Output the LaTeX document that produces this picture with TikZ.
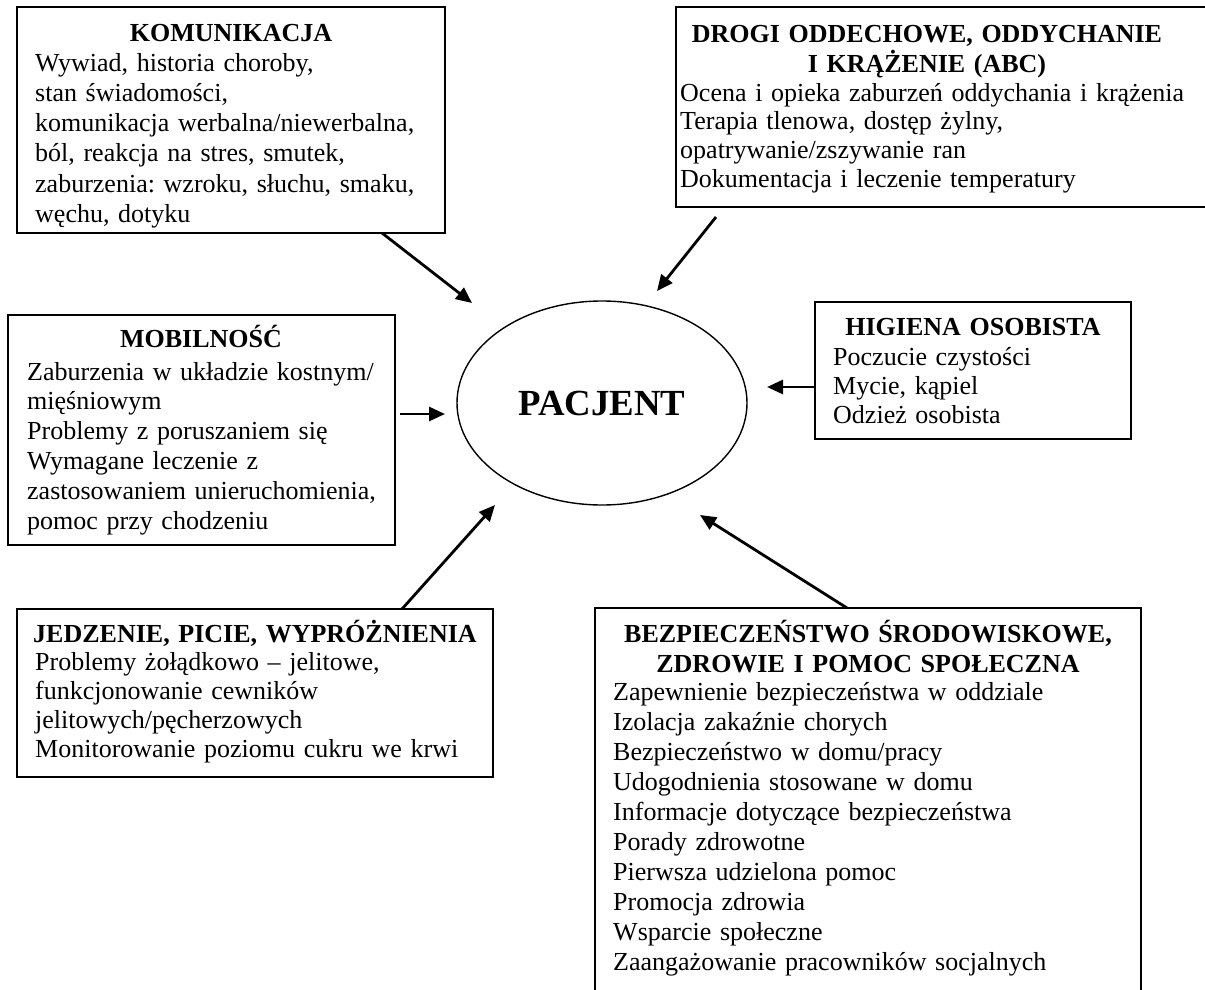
\documentclass[tikz,border=0pt]{standalone}
\usepackage{fontspec}
\setmainfont{Liberation Serif}
\frenchspacing
\usetikzlibrary{arrows.meta,shapes.geometric}
\begin{document}
\begin{tikzpicture}[x=1pt,y=-1pt,
  box/.style={draw=black, line width=1.8pt, rectangle, anchor=north west, inner sep=0pt, outer sep=0pt},
  ttl/.style={font=\fontsize{26}{30}\selectfont\bfseries, anchor=base, inner sep=0pt, text width=560pt, align=center},
  txt/.style={font=\fontsize{26}{#1}\selectfont, anchor=base west, inner sep=0pt, text width=560pt, align=left},
  txt/.default=30,
  arr/.style={line width=2.8pt, -{Triangle[length=16pt,width=14pt]}},
]
\useasboundingbox (0,0) rectangle (1205,990);
\clip (0,0) rectangle (1205,990);

% KOMUNIKACJA
\node[box, minimum width=428pt, minimum height=226pt] (kom) at (17,7) {};
\node[ttl] (komT) at (231,42) {KOMUNIKACJA};
\node[txt] (komB) at (35,72) {Wywiad, historia choroby,\\stan świadomości,\\komunikacja werbalna/niewerbalna,\\ból, reakcja na stres, smutek,\\zaburzenia: wzroku, słuchu, smaku,\\węchu, dotyku};

% DROGI ODDECHOWE
\node[box, minimum width=560pt, minimum height=200pt] (abc) at (676,7) {};
\node[ttl] (abcT) at (927,43) {DROGI ODDECHOWE, ODDYCHANIE\\I KRĄŻENIE (ABC)};
\node[txt=28.7] (abcB) at (680,101) {Ocena i opieka zaburzeń oddychania i krążenia\\Terapia tlenowa, dostęp żylny,\\opatrywanie/zszywanie ran\\Dokumentacja i leczenie temperatury};

% MOBILNOSC
\node[box, minimum width=387pt, minimum height=230pt] (mob) at (8,315) {};
\node[ttl] (mobT) at (201,347) {MOBILNOŚĆ};
\node[txt=29.8] (mobB) at (27,380) {Zaburzenia w układzie kostnym/\\mięśniowym\\Problemy z poruszaniem się\\Wymagane leczenie z\\zastosowaniem unieruchomienia,\\pomoc przy chodzeniu};

% HIGIENA
\node[box, minimum width=316pt, minimum height=137pt] (hig) at (815,302) {};
\node[ttl] (higT) at (973,335) {HIGIENA OSOBISTA};
\node[txt=29] (higB) at (833,365) {Poczucie czystości\\Mycie, kąpiel\\Odzież osobista};

% JEDZENIE
\node[box, minimum width=476pt, minimum height=168pt] (jed) at (17,609) {};
\node[ttl] (jedT) at (255,642) {JEDZENIE, PICIE, WYPRÓŻNIENIA};
\node[txt=29] (jedB) at (35,670) {Problemy żołądkowo – jelitowe,\\funkcjonowanie cewników\\jelitowych/pęcherzowych\\Monitorowanie poziomu cukru we krwi};

% BEZPIECZENSTWO
\node[box, minimum width=546pt, minimum height=420pt] (bez) at (595,608) {};
\node[ttl] (bezT) at (868,642) {BEZPIECZEŃSTWO ŚRODOWISKOWE,\\ZDROWIE I POMOC SPOŁECZNA};
\node[txt=30] (bezB) at (613,700) {Zapewnienie bezpieczeństwa w oddziale\\Izolacja zakaźnie chorych\\Bezpieczeństwo w domu/pracy\\Udogodnienia stosowane w domu\\Informacje dotyczące bezpieczeństwa\\Porady zdrowotne\\Pierwsza udzielona pomoc\\Promocja zdrowia\\Wsparcie społeczne\\Zaangażowanie pracowników socjalnych};

% PACJENT
\node[draw, ellipse, line width=1.4pt, minimum width=290pt, minimum height=204pt, inner sep=0pt, outer sep=0pt, font=\fontsize{36.8}{40}\selectfont\bfseries] (pac) at (602,403) {PACJENT};

% arrow ends
\coordinate (hKom) at (472,303);
\coordinate (tAbc) at (716,217);
\coordinate (hAbc) at (657,291);
\coordinate (tMob) at (400,414);
\coordinate (hMob) at (445,414);
\coordinate (hHig) at (767,387);
\coordinate (hJed) at (495,505);
\coordinate (hBez) at (700,515);

\draw[arr] ([xshift=365pt]kom.south west) -- (hKom);
\draw[arr] (tAbc) -- (hAbc);
\draw[arr] (tMob) -- (hMob);
\draw[arr] (hig.west |- hHig) -- (hHig);
\draw[arr] ([xshift=385pt]jed.north west) -- (hJed);
\draw[arr] ([xshift=252pt]bez.north west) -- (hBez);
\end{tikzpicture}
\end{document}
